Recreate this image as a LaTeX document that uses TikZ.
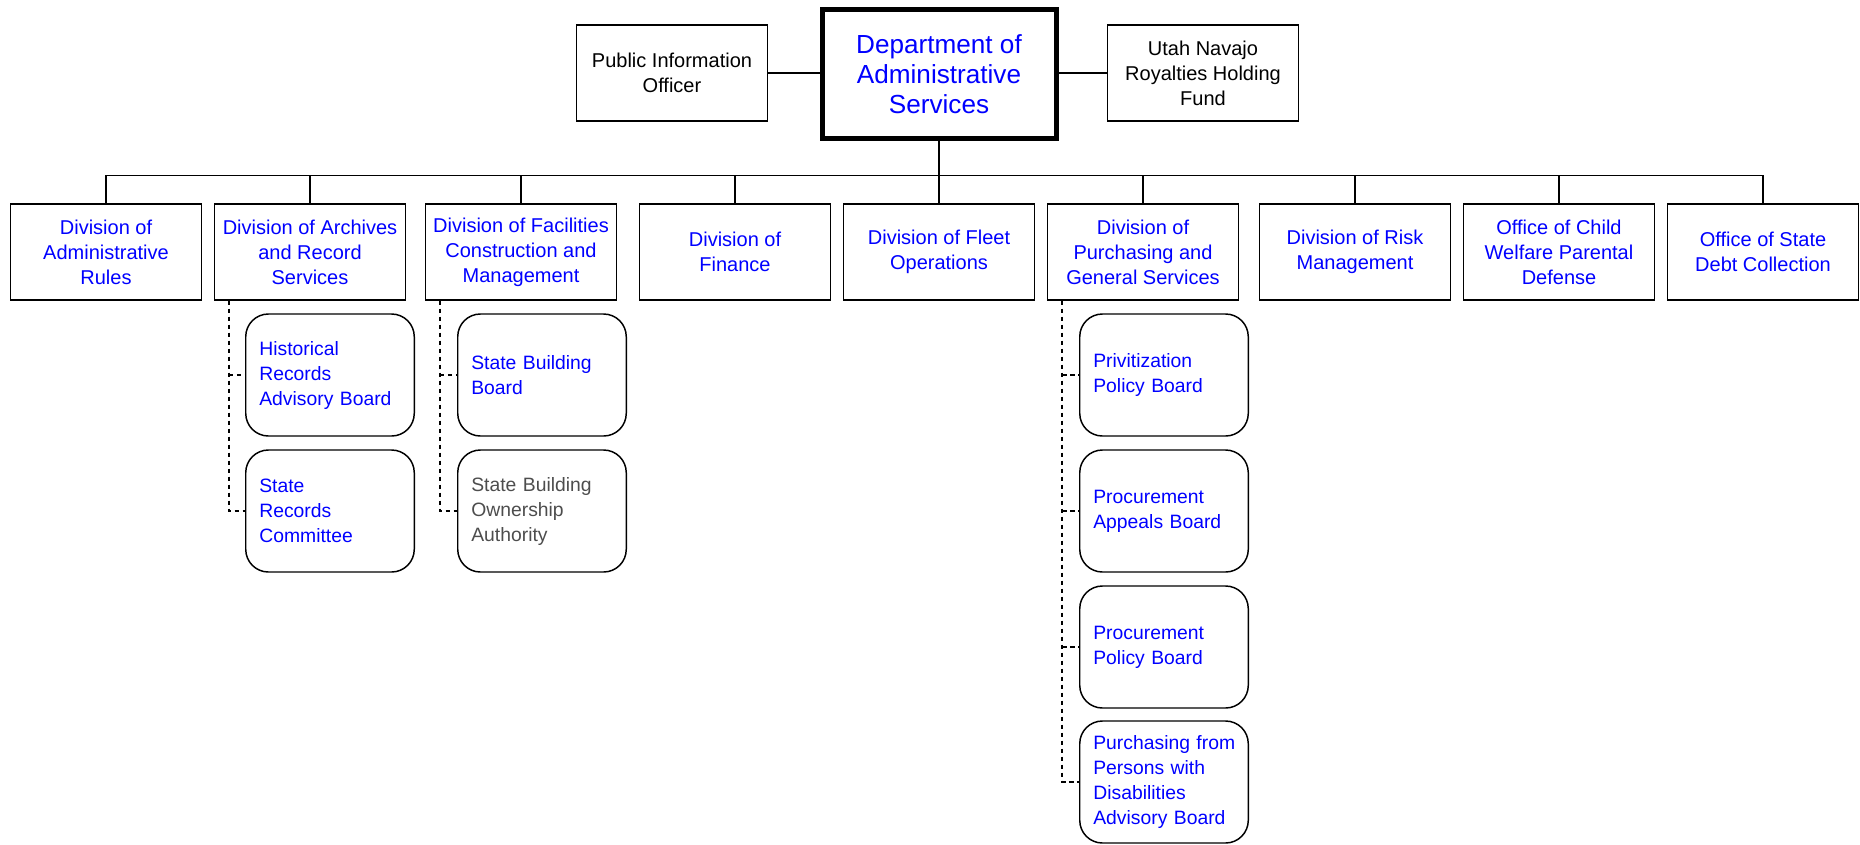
\documentclass[tikz,border=0pt]{standalone}
\usepackage{fontspec}
\setmainfont{Liberation Sans}
\definecolor{subgray}{RGB}{77,77,77}
\begin{document}
\begin{tikzpicture}[x=0.75pt,y=-0.75pt,
  box/.style={draw, line width=1.1pt, inner sep=0pt, align=center, font=\fontsize{15}{18.75}\selectfont},
  top/.style={box, minimum width=143.5pt, minimum height=72pt},
  div/.style={box, minimum width=143.25pt, minimum height=72pt, text=blue},
  head/.style={draw, line width=3.75pt, inner sep=0pt, align=center, minimum width=175.5pt, minimum height=96.75pt, text=blue, font=\fontsize{19.6}{22.6}\selectfont},
  sub/.style={draw, line width=1.1pt, rounded corners=17pt, inner sep=0pt, minimum width=126.4pt, minimum height=91.5pt, text width=106pt, align=left, text=blue, font=\fontsize{14.5}{18.75}\selectfont},
  link/.style={line width=1.1pt},
  dlink/.style={line width=1.1pt, dash pattern=on 3.5pt off 2.5pt}]
\useasboundingbox (0,0) rectangle (1860,844);

% top row
\node[head] (das) at (939,74) {Department of\\Administrative\\Services};
\node[top] (pio) at (672,73) {Public Information\\Officer};
\node[top] (utah) at (1203,73) {Utah Navajo\\Royalties Holding\\Fund};
\draw[link] (pio.east) -- (pio.east -| das.west);
\draw[link] (das.east |- utah.west) -- (utah.west);

% divisions
\node[div] (d1) at (106,252) {Division of\\Administrative\\Rules};
\node[div] (d2) at (310,252) {Division of Archives\\and Record\\Services};
\node[div] (d3) at (521,252) {Division of Facilities\\Construction and\\Management};
\node[div] (d4) at (735,252) {Division of\\Finance};
\node[div] (d5) at (939,252) {Division of Fleet\\Operations};
\node[div] (d6) at (1143,252) {Division of\\Purchasing and\\General Services};
\node[div] (d7) at (1355,252) {Division of Risk\\Management};
\node[div] (d8) at (1559,252) {Office of Child\\Welfare Parental\\Defense};
\node[div] (d9) at (1763,252) {Office of State\\Debt Collection};

\coordinate (bus) at (939,175.5);
\draw[link] (das.south) -- (bus);
\draw[link] (d1.north) |- (bus) -| (d9.north);
\foreach \i in {2,...,8} { \draw[link] (d\i.north) -- (d\i.north |- bus); }

% sub boxes
\node[sub] (a1) at (330,375) {Historical\\Records\\Advisory Board};
\node[sub] (a2) at (330,511) {State\\Records\\Committee};
\node[sub] (f1) at (542,375) {State Building\\Board};
\node[sub, text=subgray] (f2) at (542,511) {State Building\\Ownership\\Authority};
\node[sub] (p1) at (1164,375) {Privitization\\Policy Board};
\node[sub] (p2) at (1164,511) {Procurement\\Appeals Board};
\node[sub] (p3) at (1164,647) {Procurement\\Policy Board};
\node[sub] (p4) at (1164,782) {Purchasing~from\\Persons with\\Disabilities\\Advisory Board};

\coordinate (ta) at ([xshift=11.25pt]d2.south west);
\coordinate (tf) at ([xshift=11.25pt]d3.south west);
\coordinate (tp) at ([xshift=11.5pt]d6.south west);

\draw[dlink] (ta) |- (a2.west);
\draw[dlink] (ta |- a1.west) -- (a1.west);
\draw[dlink] (tf) |- (f2.west);
\draw[dlink] (tf |- f1.west) -- (f1.west);
\draw[dlink] (tp) |- (p4.west);
\draw[dlink] (tp |- p1.west) -- (p1.west);
\draw[dlink] (tp |- p2.west) -- (p2.west);
\draw[dlink] (tp |- p3.west) -- (p3.west);
\end{tikzpicture}
\end{document}
